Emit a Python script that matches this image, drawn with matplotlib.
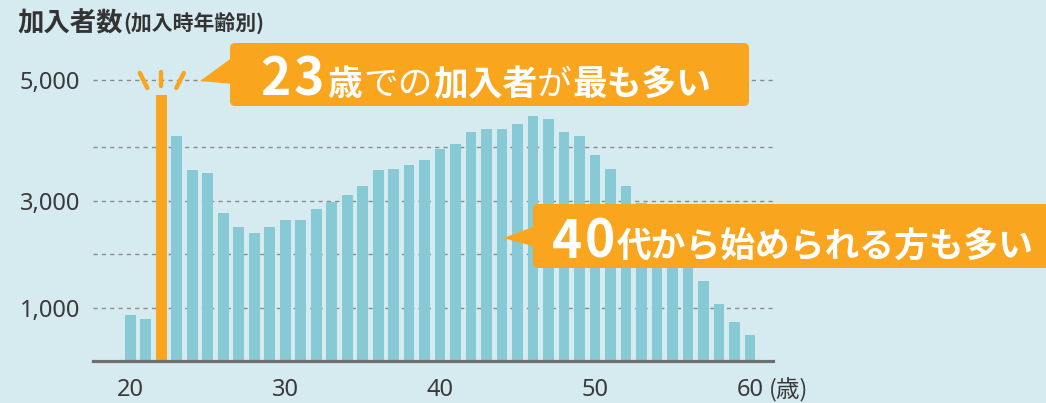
import matplotlib
matplotlib.use('Agg')
import matplotlib.pyplot as plt
from matplotlib.patches import FancyBboxPatch, Polygon

# 加入時年齢別の加入者数
ages = list(range(20, 61))
members = [860, 785, 4970, 4205, 3570, 3515, 2765, 2505, 2390, 2505,
		2635, 2635, 2840, 2970, 3100, 3270, 3570, 3590, 3660, 3760,
		3960, 4060, 4280, 4340, 4340, 4430, 4580, 4520, 4280, 4220,
		3850, 3590, 3270, 2950, 2600, 2250, 1950, 1510, 1065, 730, 490]
peak_age = 22
x_ticks = [20, 30, 40, 50, 60]
# 5,000 の線はグラフ上で少し上にずらして描かれている
y_ticks = [1000, 3000, 5250]
y_tick_labels = ['1,000', '3,000', '5,000']
grid_values = [1000, 2000, 3000, 4000, 5250]

BG = '#d6ebf0'
BLUE = '#88c9d6'
ORANGE = '#f9a61e'
TEXT = '#333333'
CJK = ['Noto Sans CJK JP', 'DejaVu Sans']

plt.rcParams['font.family'] = ['Noto Sans', 'Noto Sans CJK JP', 'DejaVu Sans']

W, H = 1046, 403
fig = plt.figure(figsize=(W / 100, H / 100), dpi=100)
fig.patch.set_facecolor(BG)

ax = fig.add_axes([92.7 / W, 1 - 361.3 / H, 680 / W, (361.3 - 77.75) / H])
ax.set_facecolor('none')
colors = [ORANGE if a == peak_age else BLUE for a in ages]
ax.bar(ages, members, width=0.69, color=colors, zorder=2)
for v in grid_values:
	ax.axhline(v, color='#8c8c8c', lw=1, ls=(0, (3, 3)), zorder=1)
ax.axhline(0, color='#6e6e6e', lw=2.3, zorder=3, clip_on=False)
ax.set_xlim(17.57, 61.47)
ax.set_ylim(0, 5300)
ax.set_xticks(x_ticks, [str(a) for a in x_ticks])
ax.set_yticks(y_ticks, y_tick_labels)
ax.tick_params(length=0, labelsize=17, labelcolor='#3a3a3a')
ax.tick_params(axis='y', pad=9)
ax.tick_params(axis='x', pad=12)
for s in ax.spines.values():
	s.set_visible(False)

# 吹き出しや見出しはピクセル座標の重ね合わせ軸に描く
ov = fig.add_axes([0, 0, 1, 1], zorder=5)
ov.set_xlim(0, W)
ov.set_ylim(H, 0)
ov.axis('off')
renderer = fig.canvas.get_renderer()


def write_pieces(x, y, pieces, color='white'):
	# pieces: (文字, サイズ, 太さ, 後ろの余白px)
	for text, size, weight, gap in pieces:
		t = ov.text(x, y, text, fontsize=size, fontweight=weight, color=color,
				va='baseline', ha='left', family=CJK)
		x += t.get_window_extent(renderer).width + gap


def callout(x0, y0, x1, y1, tri):
	box = FancyBboxPatch((x0, y0), x1 - x0, y1 - y0,
			boxstyle='round,pad=0,rounding_size=5', fc=ORANGE, ec='none')
	ov.add_patch(box)
	ov.add_patch(Polygon(tri, closed=True, fc=ORANGE, ec='none'))


# 見出し
write_pieces(17, 31, [('加入者数', 19, 'bold', 1), ('(加入時年齢別)', 15, 'bold', 0)], color=TEXT)
ov.text(769, 397, '(歳)', fontsize=17, color='#3a3a3a', va='baseline',
		ha='left', family=CJK)

# 23歳の棒の上のキラキラ
px, py = ax.transData.transform((peak_age, 0))
cx = px
for (dx0, y0, dx1, y1) in [(-21.5, 73, -14, 88), (0, 72, 0, 86), (22.5, 73, 15, 88)]:
	ov.plot([cx + dx0, cx + dx1], [y0, y1], color=ORANGE, lw=3.2,
			solid_capstyle='round')

# 吹き出し1
callout(230, 43, 749, 106, [(233, 57), (200, 81), (233, 84)])
write_pieces(260, 95, [('2', 37, 'bold', 3), ('3', 37, 'bold', 3),
		('歳', 25, 'bold', 2), ('での', 25, 'normal', 0), ('加入者', 25, 'bold', 0),
		('が', 25, 'normal', 0), ('最も多い', 25, 'bold', 0)])

# 吹き出し2
callout(533, 204, 1056, 268, [(536, 226), (503, 238), (536, 247)])
write_pieces(552, 258, [('4', 37, 'bold', 2), ('0', 37, 'bold', 2),
		('代から始められる方も多い', 25, 'bold', 0)])

fig.savefig('out.png', dpi=100, facecolor=BG)
